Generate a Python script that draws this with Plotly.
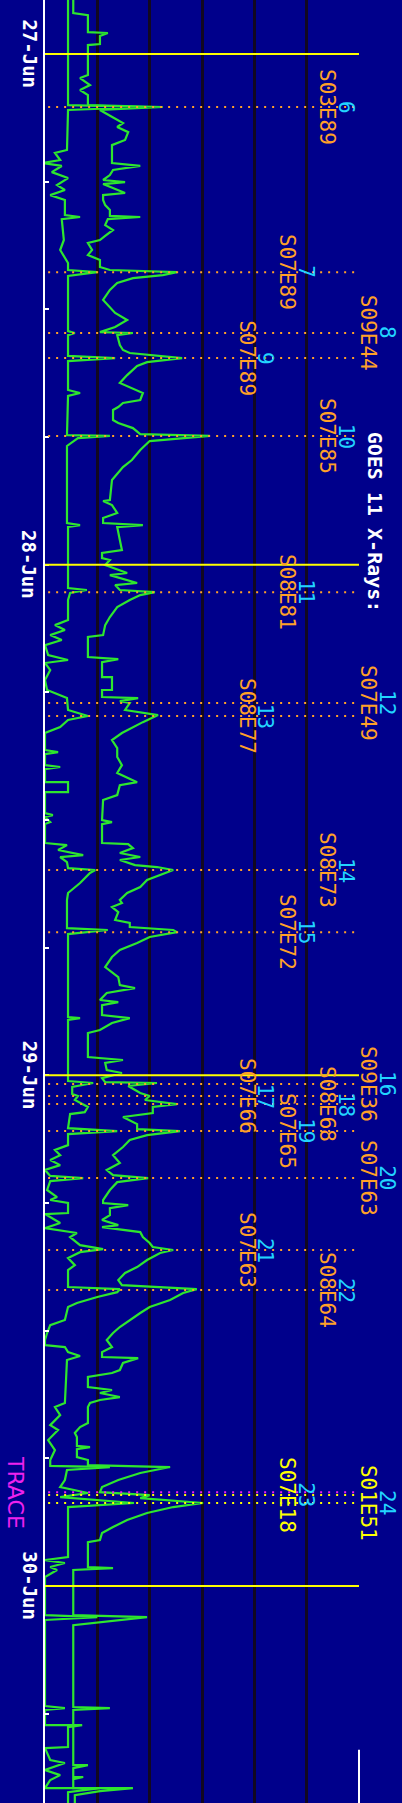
import plotly.graph_objects as go

# Time: hours since 27-Jun 00:00 UT.  Flux: log10(W m^-2)
short_t = [-2.54, 2.40, 2.49, 2.63, 4.51, 4.65, 4.98, 5.12, 5.26, 5.55, 5.83, 6.16, 6.39, 6.63, 6.86,
           7.57, 7.66, 7.76, 8.74, 9.21, 9.82, 10.15, 10.25, 10.43, 13.02, 13.11, 13.21, 14.19, 14.29, 14.43, 15.79, 15.93, 16.07,
           17.91, 17.95, 18.05, 18.42, 22.04, 22.14, 22.23, 25.10, 25.19, 25.33,
           25.66, 26.60, 26.84, 27.07, 27.31, 27.54, 27.78, 28.25, 28.48, 28.62, 28.95, 29.42, 29.89, 30.27, 30.83, 31.11,
           31.30, 31.63, 31.91, 32.71, 32.81, 32.90, 33.42, 33.51, 33.61, 34.22, 34.22, 34.69, 34.69, 35.67, 35.77, 35.86,
           36.10, 36.19, 37.08, 37.18, 37.41, 37.65, 37.74, 37.98, 38.26, 38.35, 38.49, 38.96, 39.43, 39.76,
           41.08, 41.17, 41.36, 45.26, 45.31, 45.40, 48.27, 48.36, 48.55, 48.88, 48.97, 49.16, 49.35, 49.49, 49.73, 49.82,
           50.48, 50.62, 50.76, 51.28, 51.51, 51.75, 51.98, 52.22, 52.45, 52.73, 52.83, 52.97, 53.39, 53.72, 53.86,
           54.00, 54.47, 54.52, 54.94, 55.18, 55.41, 55.60, 55.98, 56.17, 56.31, 56.59, 56.92, 57.15, 57.95, 58.05, 58.19,
           58.42, 58.70, 58.89, 59.50, 59.74, 60.11, 60.44, 60.68, 60.77, 61.01, 61.19, 61.38, 63.40, 63.59, 63.97, 64.44,
           64.67, 65.14, 65.61, 66.08, 66.36, 66.41, 66.55, 67.02, 67.35, 67.63, 67.82, 68.10, 68.29,
           70.64, 70.78, 70.92, 71.11, 71.25, 71.58, 73.37, 73.46, 73.60, 77.64, 77.74, 77.83, 78.54, 78.54, 78.63, 79.57,
           79.62, 80.18, 80.32, 80.65, 80.89, 81.12, 81.50, 81.50, 81.69, 82.20]
short_logf = [-8.56, -8.56, -7.05, -8.56, -8.58, -8.81, -8.71, -9.04, -8.68, -8.87, -8.56, -8.77, -8.62, -8.90, -8.62,
              -8.62, -8.33, -8.68, -8.64, -8.71, -8.56, -8.56, -8.00, -8.56, -8.56, -8.43, -8.56, -8.56, -7.66, -8.56, -8.56, -8.33, -8.56,
              -8.58, -7.76, -8.37, -8.58, -8.58, -8.33, -8.56, -8.56, -8.20, -8.52,
              -8.56, -8.56, -8.81, -8.62, -8.90, -8.68, -9.00, -8.94, -8.56, -9.00, -8.90, -9.00, -8.96, -8.58, -8.56, -8.18,
              -8.56, -8.71, -9.00, -9.00, -8.75, -9.00, -9.00, -8.71, -9.00, -9.00, -8.56, -8.56, -9.00, -9.00, -8.85, -9.00,
              -8.90, -9.00, -9.00, -8.58, -8.75, -8.27, -8.71, -8.58, -8.56, -8.04, -8.14, -8.33, -8.56, -8.58,
              -8.58, -7.80, -8.56, -8.56, -8.33, -8.56, -8.56, -8.08, -8.48, -8.48, -8.37, -8.43, -8.29, -8.18, -8.24, -8.52,
              -8.56, -7.62, -8.56, -8.56, -8.81, -8.71, -8.90, -8.71, -9.00, -8.90, -8.27, -8.90, -8.96, -8.77, -8.90,
              -8.56, -8.56, -9.00, -8.71, -9.00, -8.39, -8.52, -8.33, -7.89, -8.33, -8.56, -8.43, -8.56, -8.56, -7.57, -7.62,
              -8.00, -8.39, -8.56, -8.62, -8.90, -8.96, -9.00, -9.00, -8.62, -8.56, -8.33, -8.58, -8.62, -8.81, -8.71, -8.90,
              -8.75, -8.94, -8.81, -8.90, -8.90, -7.76, -8.58, -8.62, -8.71, -8.18, -8.71, -7.30, -8.56,
              -8.56, -9.00, -8.62, -8.90, -8.77, -9.00, -9.00, -8.00, -9.00, -9.00, -8.62, -9.00, -9.00, -8.29, -8.56, -8.56,
              -9.00, -8.90, -8.62, -9.00, -8.71, -8.90, -9.00, -7.95, -8.56, -8.56]

long_t = [-2.54, -1.93, -1.83, -1.03, -0.99, -0.85, -0.47, -0.42, 0.99, 1.13, 1.46, 1.69, 1.93, 2.40, 2.49, 2.63,
          2.77, 2.96, 3.24, 3.43, 3.67, 4.04, 4.28, 5.12, 5.26, 5.45, 5.69, 5.92, 6.02, 6.11, 6.53, 6.63, 6.86,
          7.10, 7.33, 7.61, 7.66, 7.76, 8.04, 8.27, 8.37, 8.55, 8.74, 8.88, 9.21, 9.45, 9.68, 10.01, 10.15,
          10.25, 10.39, 10.53, 10.76, 11.09, 11.56, 11.89, 12.17, 12.50, 12.83, 13.07, 13.11, 13.21, 13.68, 13.91, 14.05,
          14.29, 14.48, 14.66, 15.09, 15.46, 15.79, 15.93, 16.26,
          16.40, 16.59, 16.73, 17.20, 17.34, 17.58, 17.86, 17.95, 18.10, 18.19, 18.61, 19.08, 19.41, 20.02, 20.96, 21.01,
          21.20, 21.57, 21.81, 22.04, 22.14, 22.23, 22.84, 23.31, 23.45, 23.69, 23.78, 24.02, 24.39, 24.49, 24.86, 24.96,
          25.19, 25.29, 25.43,
          25.66, 25.99, 26.46, 26.84, 27.31, 27.40, 28.34, 28.44, 28.58, 29.28, 29.28, 29.89, 29.89, 30.22, 30.27, 30.41,
          30.50, 30.83, 31.07, 31.40, 31.63, 31.91, 32.24, 32.62, 33.04, 33.42, 33.79, 34.22, 34.36, 34.83, 35.06, 36.00,
          36.10, 36.19, 37.08, 37.13, 37.32, 37.55, 37.74, 37.88, 38.12, 38.21, 38.35, 38.59, 38.82, 39.15, 39.43, 39.76,
          39.90, 40.09, 40.33, 40.70, 40.84, 41.03, 41.17, 41.27, 41.50, 41.78, 42.11, 42.44, 42.91, 43.38, 43.76, 43.90,
          44.13, 44.46, 44.56, 44.70, 45.17, 45.31, 45.54, 45.87, 46.01, 47.14, 47.19, 47.28, 47.42, 47.75, 47.89, 48.13,
          48.32, 48.36, 48.50, 48.83, 48.97, 49.16, 49.35, 49.49, 49.77, 49.96, 50.29, 50.53, 50.62, 50.81, 51.04, 51.37,
          51.75, 52.12, 52.45, 52.69, 52.83, 53.02, 53.39, 53.86,
          54.00, 54.10, 54.24, 54.57, 54.80, 55.04, 55.13, 55.37, 55.60, 55.88, 56.07, 56.21, 56.35, 56.68, 57.01, 57.29,
          57.62, 57.86, 58.05, 58.23, 58.56, 58.89, 59.17, 59.50, 59.83, 60.11, 60.44, 60.77, 61.01, 61.24, 61.29, 61.52,
          61.85, 61.99, 62.18, 62.65, 62.79, 62.93, 63.12, 63.26, 63.40, 63.59,
          64.34, 64.53, 64.81, 65.00, 65.42, 65.47, 65.57, 65.94, 66.08, 66.32, 66.41, 66.69, 67.02, 67.35, 67.59, 67.73,
          67.87, 68.10, 68.29, 68.57, 68.90, 69.23, 69.51, 69.84, 69.94, 71.11, 71.16, 71.25, 73.37, 73.46, 73.65, 73.74,
          73.84, 77.69, 77.74, 77.83, 80.42, 80.42, 80.56, 80.98, 80.98, 81.08, 81.50, 81.50, 81.64, 81.83, 82.20]
long_logf = [-8.46, -8.46, -8.18, -8.18, -7.80, -7.95, -7.95, -8.18, -8.18, -8.33, -8.14, -8.33, -8.18, -8.18, -6.75, -7.95,
             -7.85, -7.72, -7.51, -7.62, -7.41, -7.47, -7.72, -7.72, -7.18, -7.70, -7.76, -7.89, -7.47, -7.89, -7.47, -7.89, -7.89,
             -7.85, -7.76, -7.76, -7.18, -7.80, -7.85, -7.70, -7.76, -7.85, -7.95, -8.18, -8.10, -8.18, -7.95, -7.95, -7.76,
             -6.48, -6.75, -7.32, -7.62, -7.76, -7.89, -7.76, -7.66, -7.43, -7.66, -7.95, -7.32, -7.62, -7.57, -7.51, -7.38,
             -6.38, -7.05, -7.24, -7.43, -7.57, -7.24, -7.13, -7.18,
             -7.51, -7.60, -7.70, -7.70, -7.60, -7.32, -7.18, -5.85, -6.61, -7.00, -7.18, -7.34, -7.51, -7.72, -7.76, -7.89,
             -7.72, -7.62, -7.89, -7.89, -7.13, -7.62, -7.57, -7.53, -7.91, -7.91, -7.76, -7.85, -7.43, -7.76, -7.24, -7.66,
             -7.57, -6.90, -7.18,
             -7.38, -7.62, -7.76, -7.85, -7.89, -8.18, -8.18, -7.60, -7.91, -7.91, -7.72, -7.72, -7.91, -7.91, -7.22, -7.57,
             -7.38, -7.47, -6.84, -7.13, -7.32, -7.53, -7.72, -7.62, -7.62, -7.53, -7.62, -7.24, -7.57, -7.62, -7.89, -7.91,
             -7.72, -7.91, -7.91, -7.41, -7.32, -7.57, -7.18, -7.57, -7.28, -6.86, -6.55, -6.80, -7.05, -7.18, -7.43, -7.57,
             -7.53, -7.72, -7.60, -7.66, -7.38, -7.38, -6.55, -6.48, -7.00, -7.24, -7.57, -7.72, -7.85, -7.60, -7.57, -7.28,
             -7.82, -7.95, -7.60, -7.91, -7.91, -7.38, -7.72, -7.95, -8.18, -8.18, -7.89, -7.51, -7.85, -7.82, -7.53, -7.91,
             -7.85, -6.86, -7.41, -7.18, -7.00, -7.09, -6.48, -6.94, -6.94, -7.51, -7.24, -7.24, -6.42, -7.05, -7.38, -7.51,
             -7.70, -7.57, -7.82, -7.70, -7.03, -7.62, -7.76, -7.89,
             -7.89, -7.41, -7.76, -7.76, -7.91, -7.60, -7.91, -7.18, -7.13, -7.00, -6.94, -6.55, -6.80, -7.05, -7.24, -7.47,
             -7.60, -7.53, -6.10, -6.36, -6.61, -7.00, -7.18, -7.38, -7.57, -7.70, -7.82, -7.72, -7.91, -7.91, -7.22, -7.51,
             -7.57, -7.72, -8.18, -8.18, -7.72, -7.95, -7.57, -7.95, -8.14, -8.18,
             -8.18, -8.33, -8.43, -8.39, -8.39, -8.14, -8.39, -8.39, -8.18, -8.18, -6.61, -7.18, -7.60, -7.91, -7.95, -7.00,
             -7.18, -5.98, -6.55, -7.05, -7.43, -7.70, -7.91, -7.95, -8.18, -8.18, -7.70, -8.46, -8.46, -7.05, -7.76, -8.18,
             -8.46, -8.46, -7.76, -8.46, -8.46, -8.18, -8.46, -8.46, -8.27, -8.46, -8.46, -7.32, -7.95, -8.43, -8.43]

day_labels = ["27-Jun", "28-Jun", "29-Jun", "30-Jun"]
day_hours = [0, 24, 48, 72]

flare_numbers = list(range(6, 25))
flare_hours = [2.49, 10.25, 13.11, 14.29, 17.95, 25.29, 30.50, 31.11, 38.35, 41.27,
               48.41, 48.97, 49.35, 50.62, 52.83, 56.21, 58.09, 67.73, 68.10]
flare_locations = ["S03E89", "S07E89", "S09E44", "S07E89", "S07E85", "S08E81", "S07E49", "S08E77",
                   "S08E73", "S07E72", "S09E36", "S07E66", "S08E68", "S07E65", "S07E63", "S07E63",
                   "S08E64", "S07E18", "S01E51"]
trace_hour = 67.59
title_text = "GOES 11 X-Rays:"

# ---- styling ----
BG = "#00008b"
GREEN = "#2ee62e"
ORANGE = "#ffa028"
YELLOW = "#ffff00"
CYAN = "#22d4ff"
MAGENTA = "#ee22ee"
GRID = "#120820"
MONO = "DejaVu Sans Mono"

fig = go.Figure()
fig.add_trace(go.Scatter(x=[10 ** v for v in long_logf], y=long_t, mode="lines",
                         line=dict(color=GREEN, width=2.2), hoverinfo="skip"))
fig.add_trace(go.Scatter(x=[10 ** v for v in short_logf], y=short_t, mode="lines",
                         line=dict(color=GREEN, width=2.2), hoverinfo="skip"))

shapes = []
annotations = []

def ann(xp, h, text, size, color, family=MONO):
    return dict(x=xp, y=h, xref="paper", yref="y", text=text, textangle=90,
                showarrow=False, xanchor="center", yanchor="middle",
                font=dict(family=family, size=size, color=color))

for lab, h in zip(day_labels, day_hours):
    shapes.append(dict(type="line", xref="paper", yref="y", x0=0, x1=1, y0=h, y1=h,
                       line=dict(color=YELLOW, width=2), layer="above"))
    annotations.append(ann(-0.049, h, "<b>%s</b>" % lab, 19, "white"))

# label columns in paper units (plot spans 314 px starting 45 px from the left)
col_loc = [0.643, 0.771, 0.898, 1.029]
col_num = [0.701, 0.831, 0.959, 1.089]
col_cycle = [2, 1, 3, 0]
for i, (n, h, loc) in enumerate(zip(flare_numbers, flare_hours, flare_locations)):
    c = col_cycle[i % 4]
    lc = YELLOW if n >= 23 else ORANGE
    shapes.append(dict(type="line", xref="paper", yref="y", x0=0.01, x1=0.995, y0=h, y1=h,
                       line=dict(color=lc, width=2, dash="2px,6px"), layer="above"))
    annotations.append(ann(col_loc[c], h, loc, 21, lc))
    annotations.append(ann(col_num[c], h, str(n), 21, CYAN))

shapes.append(dict(type="line", xref="paper", yref="y", x0=0.01, x1=0.995, y0=trace_hour, y1=trace_hour,
                   line=dict(color=MAGENTA, width=2, dash="2px,6px"), layer="above"))
annotations.append(ann(-0.092, trace_hour, "TRACE", 22, MAGENTA, "DejaVu Sans"))
annotations.append(ann(1.049, 22.0, "<b>%s</b>" % title_text, 20, "white"))
# white end marker at lower right
shapes.append(dict(type="line", xref="paper", yref="y", x0=1, x1=1, y0=79.7, y1=82.2,
                   line=dict(color="white", width=2)))

fig.update_layout(
    width=402, height=1803,
    margin=dict(l=45, r=43, t=0, b=0, pad=0),
    paper_bgcolor=BG, plot_bgcolor=BG,
    showlegend=False,
    shapes=shapes, annotations=annotations,
    xaxis=dict(type="log", range=[-9, -3], tickvals=[1e-8, 1e-7, 1e-6, 1e-5, 1e-4],
               showticklabels=False, showgrid=True, gridcolor=GRID, gridwidth=3,
               zeroline=False, showline=False, ticks=""),
    yaxis=dict(range=[82.20, -2.54], tickvals=list(range(6, 82, 6)), ticks="inside",
               ticklen=4, tickwidth=2, tickcolor="white", showticklabels=False,
               showline=True, linecolor="white", linewidth=2, showgrid=False, zeroline=False),
)

fig.write_html("out.html", config={"displayModeBar": False},
               post_script="document.body.style.margin='0';document.body.style.background='%s';" % BG)
